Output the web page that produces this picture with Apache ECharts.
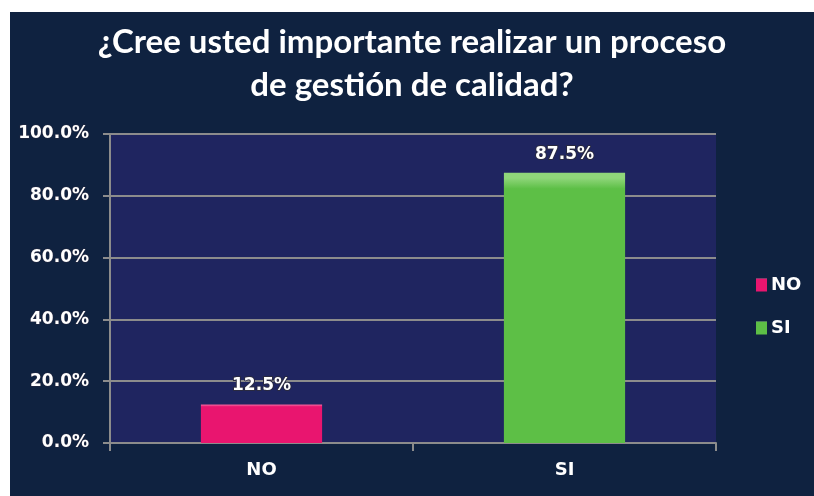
<!DOCTYPE html>
<html><head><meta charset="utf-8">
<script src="https://cdn.jsdelivr.net/npm/echarts@6/dist/echarts.min.js"></script>
<style>
html,body{margin:0;padding:0;background:#ffffff;}
#c{position:absolute;left:10px;top:12px;width:804px;height:484px;}
</style></head>
<body><div id="c"></div>
<script>
const categories = ['NO', 'SI'];
const seriesNames = ['NO', 'SI'];
const values = [0.125, 0.875];
const yTicks = [0, 0.2, 0.4, 0.6, 0.8, 1.0];
const titleText = '¿Cree usted importante realizar un proceso\nde gestión de calidad?';

const colors = ['#e9156f', '#5dbf46'];
const tops = ['#f25a98', '#8fd67a'];

const chart = echarts.init(document.getElementById('c'));
const series = seriesNames.map((name, i) => ({
  name: name,
  type: 'bar',
  stack: 'all',
  barWidth: '40%',
  data: categories.map((c, j) => j === i ? values[i] : '-'),
  itemStyle: {
    color: {
      type: 'linear', x: 0, y: 0, x2: 0, y2: 1,
      colorStops: [
        {offset: 0, color: tops[i]},
        {offset: 0.02, color: tops[i]},
        {offset: 0.06, color: colors[i]},
        {offset: 1, color: colors[i]}
      ]
    }
  },
  label: {
    show: true,
    position: 'top',
    distance: 10,
    formatter: p => (p.value * 100).toFixed(1) + '%',
    color: '#ffffff',
    fontFamily: 'Verdana, DejaVu Sans',
    fontWeight: 'bold',
    fontSize: 17,
    textBorderColor: '#2a2a40',
    textBorderWidth: 2
  }
}));

chart.setOption({
  backgroundColor: '#0f2240',
  color: colors,
  title: {
    text: titleText,
    left: 'center',
    top: 4,
    textStyle: {
      color: '#ffffff',
      fontFamily: 'Lato',
      fontWeight: 'bold',
      fontSize: 33,
      lineHeight: 43
    }
  },
  legend: {
    orient: 'vertical',
    left: 741,
    top: 259,
    itemWidth: 11,
    itemHeight: 13,
    itemGap: 25,
    icon: 'rect',
    textStyle: {
      color: '#ffffff',
      fontFamily: 'Verdana, DejaVu Sans',
      fontWeight: 'bold',
      fontSize: 18,
      padding: [0, 0, 0, -1]
    }
  },
  grid: {
    left: 100, right: 98, top: 122, bottom: 53,
    show: true, backgroundColor: '#1f2560', borderWidth: 0
  },
  xAxis: {
    type: 'category',
    data: categories,
    axisLine: {lineStyle: {color: '#8c8c8c', width: 2}},
    axisTick: {show: true, alignWithLabel: false, length: 8, lineStyle: {color: '#8c8c8c', width: 2}},
    axisLabel: {
      color: '#ffffff', fontFamily: 'Verdana, DejaVu Sans', fontWeight: 'bold', fontSize: 18, margin: 18
    }
  },
  yAxis: {
    type: 'value',
    min: 0, max: 1, interval: 0.2,
    axisLine: {show: true, lineStyle: {color: '#8c8c8c', width: 2}},
    axisTick: {show: true, length: 7, lineStyle: {color: '#8c8c8c', width: 2}},
    splitLine: {lineStyle: {color: '#8c8c8c', width: 2}},
    axisLabel: {
      color: '#ffffff', fontFamily: 'Verdana, DejaVu Sans', fontWeight: 'bold', fontSize: 17, margin: 21,
      formatter: v => (v * 100).toFixed(1) + '%',
      textBorderColor: '#2a2a40', textBorderWidth: 1
    }
  },
  series: series
});
</script></body></html>
